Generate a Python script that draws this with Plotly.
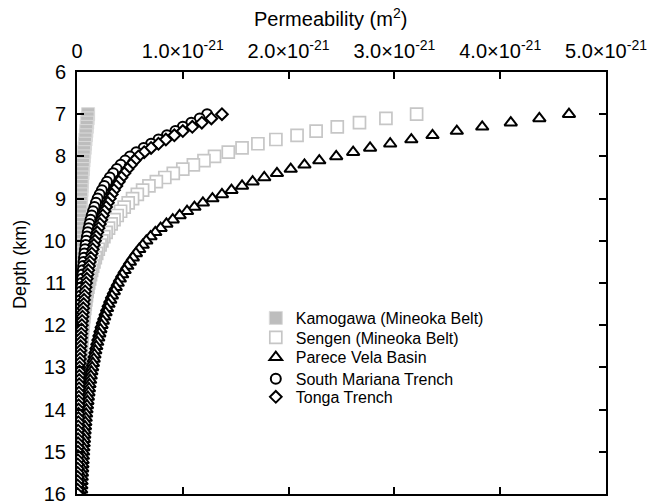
import plotly.graph_objects as go

# Depth (km)
depth = [7.0, 7.1, 7.2, 7.3, 7.4, 7.5, 7.6, 7.7, 7.8, 7.9,
         8.0, 8.1, 8.2, 8.3, 8.4, 8.5, 8.6, 8.7, 8.8, 8.9,
         9.0, 9.1, 9.2, 9.3, 9.4, 9.5, 9.6, 9.7, 9.8, 9.9,
         10.0, 10.1, 10.2, 10.3, 10.4, 10.5, 10.6, 10.7, 10.8, 10.9,
         11.0, 11.1, 11.2, 11.3, 11.4, 11.5, 11.6, 11.7, 11.8, 11.9,
         12.0, 12.1, 12.2, 12.3, 12.4, 12.5, 12.6, 12.7, 12.8, 12.9,
         13.0, 13.1, 13.2, 13.3, 13.4, 13.5, 13.6, 13.7, 13.8, 13.9,
         14.0, 14.1, 14.2, 14.3, 14.4, 14.5, 14.6, 14.7, 14.8, 14.9,
         15.0, 15.1, 15.2, 15.3, 15.4, 15.5, 15.6, 15.7, 15.8, 15.9,
         16.0]

# Permeability in units of 1e-21 m^2
kamogawa = [0.105, 0.100, 0.096, 0.092, 0.088, 0.084, 0.080, 0.076, 0.072, 0.068,
            0.064, 0.061, 0.058, 0.055, 0.052, 0.049, 0.046, 0.044, 0.042, 0.040,
            0.038, 0.036, 0.034, 0.032, 0.030, 0.028, 0.0265, 0.025, 0.0237, 0.0223,
            0.021, 0.020, 0.019, 0.018, 0.017, 0.016, 0.0151, 0.0142, 0.0134, 0.0127,
            0.012, 0.0113, 0.0107, 0.0101, 0.0095, 0.009, 0.0086, 0.0082, 0.0078, 0.0074,
            0.007, 0.0067, 0.0064, 0.0061, 0.0058, 0.0055, 0.0053, 0.0051, 0.0049, 0.0047,
            0.0045, 0.0043, 0.0041, 0.0039, 0.0038, 0.0036, 0.0035, 0.0034, 0.0033, 0.0032,
            0.0031, 0.0030, 0.0029, 0.0028, 0.0027, 0.0026, 0.0025, 0.0025, 0.0024, 0.0023,
            0.0023, 0.0022, 0.0021, 0.0021, 0.0020, 0.0020, 0.0019, 0.0019, 0.0018, 0.0018,
            0.0017]

sengen = [3.21, 2.92, 2.67, 2.46, 2.26, 2.08, 1.88, 1.71, 1.56, 1.43,
          1.30, 1.20, 1.10, 1.00, 0.91, 0.83, 0.75, 0.68, 0.62, 0.57,
          0.525, 0.484, 0.446, 0.412, 0.380, 0.350, 0.323, 0.298, 0.275, 0.254,
          0.235, 0.218, 0.201, 0.186, 0.173, 0.160, 0.148, 0.138, 0.128, 0.119,
          0.110, 0.103, 0.0959, 0.0895, 0.0836, 0.078, 0.073, 0.0683, 0.0639, 0.0598,
          0.056, 0.0526, 0.0494, 0.0464, 0.0436, 0.041, 0.0385, 0.0362, 0.034, 0.0319,
          0.030, 0.0282, 0.0265, 0.0249, 0.0234, 0.022, 0.0209, 0.0198, 0.0189, 0.0179,
          0.017, 0.0161, 0.0153, 0.0145, 0.0137, 0.013, 0.0123, 0.0117, 0.0111, 0.0105,
          0.010, 0.0096, 0.0091, 0.0087, 0.0084, 0.008, 0.0076, 0.0071, 0.0067, 0.0064,
          0.006]

parece_vela = [4.65, 4.37, 4.10, 3.83, 3.59, 3.36, 3.16, 2.96, 2.77, 2.61,
               2.45, 2.29, 2.15, 2.02, 1.89, 1.77, 1.66, 1.56, 1.46, 1.37,
               1.28, 1.19, 1.11, 1.04, 0.97, 0.905, 0.845, 0.79, 0.74, 0.695,
               0.655, 0.621, 0.588, 0.557, 0.528, 0.500, 0.475, 0.450, 0.427, 0.405,
               0.385, 0.366, 0.348, 0.330, 0.314, 0.298, 0.284, 0.270, 0.257, 0.244,
               0.232, 0.221, 0.211, 0.201, 0.191, 0.182, 0.173, 0.165, 0.158, 0.150,
               0.143, 0.136, 0.130, 0.124, 0.118, 0.113, 0.108, 0.103, 0.0986, 0.0942,
               0.090, 0.0861, 0.0823, 0.0787, 0.0753, 0.072, 0.069, 0.066, 0.0633, 0.0606,
               0.058, 0.0556, 0.0533, 0.0511, 0.049, 0.047, 0.045, 0.0431, 0.0413, 0.0396,
               0.038]

south_mariana = [1.23, 1.16, 1.08, 1.00, 0.93, 0.85, 0.77, 0.70, 0.63, 0.56,
                 0.50, 0.455, 0.413, 0.376, 0.342, 0.310, 0.283, 0.258, 0.235, 0.214,
                 0.195, 0.179, 0.165, 0.1515, 0.139, 0.128, 0.1185, 0.1097, 0.1016, 0.094,
                 0.087, 0.0813, 0.076, 0.071, 0.0664, 0.062, 0.0582, 0.0546, 0.0512, 0.048,
                 0.045, 0.0423, 0.0398, 0.0374, 0.0351, 0.033, 0.0311, 0.0293, 0.0276, 0.026,
                 0.0245, 0.0232, 0.0219, 0.0207, 0.0196, 0.0185, 0.0175, 0.0166, 0.0157, 0.0148,
                 0.014, 0.0133, 0.0126, 0.0119, 0.0113, 0.0108, 0.0102, 0.0097, 0.0093, 0.0088,
                 0.0084, 0.008, 0.0076, 0.0072, 0.0069, 0.0066, 0.0063, 0.006, 0.0057, 0.0054,
                 0.0052, 0.0049, 0.0047, 0.0045, 0.0043, 0.0041, 0.0039, 0.0037, 0.0035, 0.0034,
                 0.0032]

tonga = [1.37, 1.27, 1.18, 1.09, 1.00, 0.92, 0.84, 0.77, 0.70, 0.635,
         0.58, 0.544, 0.510, 0.478, 0.448, 0.420, 0.395, 0.372, 0.350, 0.329,
         0.310, 0.292, 0.275, 0.259, 0.244, 0.230, 0.2165, 0.204, 0.192, 0.181,
         0.170, 0.159, 0.149, 0.139, 0.130, 0.122, 0.114, 0.107, 0.0996, 0.0931,
         0.087, 0.0816, 0.0765, 0.0717, 0.0672, 0.063, 0.0592, 0.0556, 0.0522, 0.049,
         0.046, 0.0433, 0.0408, 0.0384, 0.0361, 0.034, 0.032, 0.030, 0.0283, 0.0266,
         0.025, 0.0237, 0.0224, 0.0212, 0.0201, 0.019, 0.018, 0.0171, 0.0162, 0.0153,
         0.0145, 0.0138, 0.0131, 0.0124, 0.0118, 0.0112, 0.0106, 0.0101, 0.0096, 0.0091,
         0.0087, 0.0083, 0.0079, 0.0075, 0.0071, 0.0068, 0.0065, 0.0062, 0.0059, 0.0056,
         0.0053]

series_names = ["Kamogawa (Mineoka Belt)", "Sengen (Mineoka Belt)", "Parece Vela Basin",
                "South Mariana Trench", "Tonga Trench"]

x_tickvals = [0, 1, 2, 3, 4, 5]
x_ticktext = ["0", "1.0×10<sup>-21</sup>", "2.0×10<sup>-21</sup>", "3.0×10<sup>-21</sup>",
              "4.0×10<sup>-21</sup>", "5.0×10<sup>-21</sup>"]
y_tickvals = [6, 7, 8, 9, 10, 11, 12, 13, 14, 15, 16]

FONT = "Liberation Sans, Arial, Helvetica, sans-serif"

styles = [
    dict(symbol="square", size=13, color="#bdbdbd", line=dict(color="#dadada", width=1)),
    dict(symbol="square", size=12, color="white", line=dict(color="#c6c6c6", width=1.7)),
    dict(symbol="triangle-up", size=11, color="white", line=dict(color="black", width=2)),
    dict(symbol="circle", size=10, color="white", line=dict(color="black", width=2)),
    dict(symbol="diamond", size=9, color="white", line=dict(color="black", width=2)),
]
data = [kamogawa, sengen, parece_vela, south_mariana, tonga]
legend_ids = ["legend", "legend2", "legend3", "legend4", "legend5"]

fig = go.Figure()
for vals, name, st, lg in zip(data, series_names, styles, legend_ids):
    fig.add_trace(go.Scatter(x=vals, y=depth, mode="markers", name=name,
                             marker=st, legend=lg))

axis_common = dict(showline=True, linecolor="black", linewidth=2, ticks="inside",
                   ticklen=7, tickwidth=1.5, tickcolor="black", mirror="ticks",
                   showgrid=False, zeroline=False, ticklabeloverflow="allow",
                   automargin=False,
                   tickfont=dict(family=FONT, size=20, color="black"))

# legend rows (paper y of each row centre)
legend_rows = [0.417, 0.371, 0.324, 0.273, 0.230]
legend_layout = {}
for lg, yy in zip(legend_ids, legend_rows):
    legend_layout[lg] = dict(x=0.338, y=yy, xanchor="left", yanchor="middle",
                             bgcolor="rgba(0,0,0,0)", borderwidth=0,
                             font=dict(family=FONT, size=16, color="black"),
                             itemsizing="trace")

fig.update_layout(
    width=655, height=502,
    margin=dict(l=77, r=49, t=72, b=8, autoexpand=False),
    paper_bgcolor="white", plot_bgcolor="white",
    font=dict(family=FONT, color="black"),
    xaxis=dict(side="top", range=[0, 5], tickvals=x_tickvals, ticktext=x_ticktext,
               ticklabelstandoff=4, **axis_common),
    yaxis=dict(range=[16, 6], tickvals=y_tickvals, ticklabelstandoff=5, **axis_common),
    showlegend=True,
    annotations=[
        dict(text="Permeability (m<sup>2</sup>)", xref="paper", yref="paper",
             x=0.480, y=1.128, xanchor="center", yanchor="middle", showarrow=False,
             font=dict(family=FONT, size=20, color="black")),
        dict(text="Depth (km)", xref="paper", yref="paper", textangle=-90,
             x=-0.108, y=0.545, xanchor="center", yanchor="middle", showarrow=False,
             font=dict(family=FONT, size=18, color="black")),
    ],
    **legend_layout,
)

fig.write_html("out.html")
